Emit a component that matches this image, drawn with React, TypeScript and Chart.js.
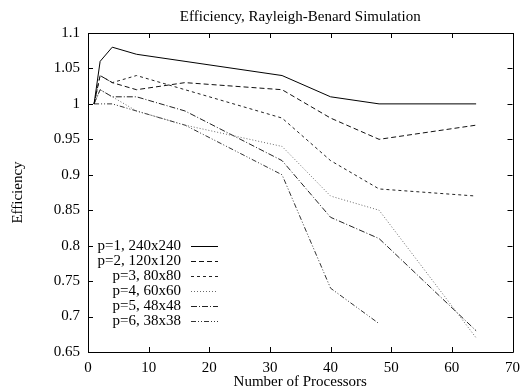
import React, { useEffect, useRef } from 'react';
import { Chart, registerables } from 'chart.js';

Chart.register(...registerables);

const processors = [1, 2, 4, 8, 16, 32, 40, 48, 64];
const seriesLabels = [
  'p=1, 240x240',
  'p=2, 120x120',
  'p=3, 80x80',
  'p=4, 60x60',
  'p=5, 48x48',
  'p=6, 38x38',
];
const eff1 = [1.0, 1.06, 1.08, 1.07, 1.06, 1.04, 1.01, 1.0, 1.0];
const eff2 = [1.0, 1.04, 1.03, 1.02, 1.03, 1.02, 0.98, 0.95, 0.97];
const eff3 = [1.0, 1.04, 1.03, 1.04, 1.02, 0.98, 0.92, 0.88, 0.87];
const eff4 = [1.0, 1.02, 1.01, 0.99, 0.97, 0.94, 0.87, 0.85, 0.67];
const eff5 = [1.0, 1.02, 1.01, 1.01, 0.99, 0.92, 0.84, 0.81, 0.68];
const eff6 = [1.0, 1.0, 1.0, 0.99, 0.97, 0.9, 0.74, 0.69, null];
const xTickValues = [0, 10, 20, 30, 40, 50, 60, 70];
const yTickValues = [0.65, 0.7, 0.75, 0.8, 0.85, 0.9, 0.95, 1.0, 1.05, 1.1];

const allSeries = [eff1, eff2, eff3, eff4, eff5, eff6];
const colors = ['#000000', '#111111', '#222222', '#6a6a6a', '#222222', '#333333'];
const dashes = [[], [5, 3], [3, 3], [1, 2], [6, 2, 1, 2], [5, 2, 1, 2, 1, 2]];

const FONT = '"Liberation Serif", "Times New Roman", serif';

const frameAndLegend = {
  id: 'frameAndLegend',
  afterDatasetsDraw(chart: any) {
    const { ctx, chartArea } = chart;
    const { left, right, top, bottom } = chartArea;
    const xs = chart.scales.x;
    const ys = chart.scales.y;
    ctx.save();
    ctx.strokeStyle = '#000';
    ctx.lineWidth = 1;
    ctx.setLineDash([]);
    ctx.beginPath();
    ctx.rect(Math.round(left) + 0.5, Math.round(top) + 0.5, Math.round(right - left), Math.round(bottom - top));
    ctx.stroke();
    const tl = 5;
    ctx.beginPath();
    xTickValues.forEach((v) => {
      const px = Math.round(xs.getPixelForValue(v)) + 0.5;
      ctx.moveTo(px, bottom);
      ctx.lineTo(px, bottom - tl);
      ctx.moveTo(px, top);
      ctx.lineTo(px, top + tl);
    });
    yTickValues.forEach((v) => {
      const py = Math.round(ys.getPixelForValue(v)) + 0.5;
      ctx.moveTo(left, py);
      ctx.lineTo(left + tl, py);
      ctx.moveTo(right, py);
      ctx.lineTo(right - tl, py);
    });
    ctx.stroke();

    // legend
    ctx.font = '15px ' + FONT;
    ctx.textAlign = 'right';
    ctx.textBaseline = 'middle';
    ctx.fillStyle = '#000';
    chart.data.datasets.forEach((ds: any, i: number) => {
      const y = 246 + i * 15;
      ctx.fillText(ds.label, 181, y);
      ctx.strokeStyle = ds.borderColor;
      ctx.setLineDash(ds.borderDash || []);
      ctx.beginPath();
      ctx.moveTo(191, Math.round(y) + 0.5);
      ctx.lineTo(218, Math.round(y) + 0.5);
      ctx.stroke();
    });
    ctx.restore();
  },
};

export default function App() {
  const ref = useRef<HTMLCanvasElement>(null);
  useEffect(() => {
    if (!ref.current) return;
    const chart = new Chart(ref.current, {
      type: 'line',
      data: {
        datasets: allSeries.map((vals, i) => ({
          label: seriesLabels[i],
          data: processors.map((p, j) => ({ x: p, y: vals[j] })).filter((d) => d.y !== null),
          borderColor: colors[i],
          borderDash: dashes[i],
          borderWidth: 1,
          pointRadius: 0,
          fill: false,
          tension: 0,
        })),
      },
      options: {
        animation: false,
        responsive: false,
        maintainAspectRatio: false,
        layout: { padding: { left: 0, right: 14, top: 0, bottom: 0 } },
        plugins: {
          legend: { display: false },
          tooltip: { enabled: false },
          title: {
            display: true,
            fullSize: false,
            text: 'Efficiency, Rayleigh-Benard Simulation',
            color: '#000',
            font: { family: FONT, size: 15, weight: 'normal' },
            padding: { top: 8, bottom: 7 },
          },
        },
        scales: {
          x: {
            type: 'linear',
            min: 0,
            max: 70,
            afterFit: (s: any) => { s.height = 38; },
            afterBuildTicks: (s: any) => { s.ticks = xTickValues.map((v) => ({ value: v })); },
            grid: { display: false, drawTicks: false },
            border: { display: false },
            ticks: {
              color: '#000',
              padding: 7,
              maxRotation: 0,
              font: { family: FONT, size: 15 },
            },
            title: {
              display: true,
              text: 'Number of Processors',
              color: '#000',
              font: { family: FONT, size: 15 },
              padding: { top: 0, bottom: -1 },
            },
          },
          y: {
            type: 'linear',
            min: 0.65,
            max: 1.1,
            afterFit: (s: any) => { s.width = 88; },
            afterBuildTicks: (s: any) => { s.ticks = yTickValues.map((v) => ({ value: v })); },
            grid: { display: false, drawTicks: false },
            border: { display: false },
            ticks: {
              color: '#000',
              padding: 8,
              font: { family: FONT, size: 15 },
              callback: (v: any) => String(Number(Number(v).toFixed(2))),
            },
            title: {
              display: true,
              text: 'Efficiency',
              color: '#000',
              font: { family: FONT, size: 15 },
              padding: { top: 9, bottom: 0 },
            },
          },
        },
      },
      plugins: [frameAndLegend],
    });
    return () => chart.destroy();
  }, []);
  return (
    <div style={{ position: 'fixed', left: 0, top: 0, width: 527, height: 390, background: '#fff' }}>
      <canvas ref={ref} width={527} height={390} style={{ width: 527, height: 390, display: 'block' }} />
    </div>
  );
}
